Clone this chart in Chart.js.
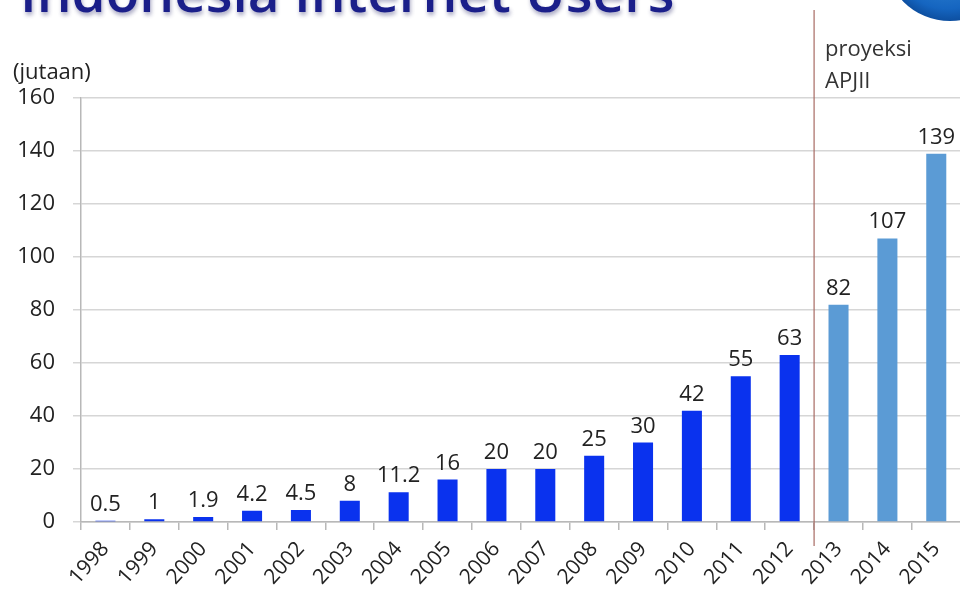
<!DOCTYPE html>
<html>
<head>
<meta charset="utf-8">
<script src="https://cdn.jsdelivr.net/npm/chart.js@4.4.1/dist/chart.umd.min.js"></script>
<style>
  html, body { margin: 0; padding: 0; background: #ffffff; overflow: hidden; width: 960px; height: 598px; }
  #wrap { position: relative; width: 962px; height: 598px; }
</style>
</head>
<body>
<div id="wrap"><canvas id="c" width="962" height="598"></canvas></div>
<script>
const years = ['1998','1999','2000','2001','2002','2003','2004','2005','2006','2007','2008','2009','2010','2011','2012','2013','2014','2015'];
const users = [0.5, 1, 1.9, 4.2, 4.5, 8, 11.2, 16, 20, 20, 25, 30, 42, 55, 63, 82, 107, 139];
const valueLabels = ['0.5','1','1.9','4.2','4.5','8','11.2','16','20','20','25','30','42','55','63','82','107','139'];
const projectedFrom = '2013';
const yTicks = [0, 20, 40, 60, 80, 100, 120, 140, 160];
const titleText = 'Indonesia Internet Users';
const unitText = '(jutaan)';
const projectionText = ['proyeksi', 'APJII'];

const FONT = "'Open Sans', 'Noto Sans', sans-serif";
const projIndex = years.indexOf(projectedFrom);
const barColors = years.map((y, i) => i >= projIndex ? '#5b9bd5' : '#0a32ee');

const extras = {
  id: 'extras',
  beforeDraw(chart) {
    const ctx = chart.ctx;
    ctx.save();
    // logo circle (top right)
    const g = ctx.createRadialGradient(935, -70, 10, 950, -45, 66);
    g.addColorStop(0, '#4aa3e8');
    g.addColorStop(0.85, '#1565c0');
    g.addColorStop(1, '#0d4fa0');
    ctx.beginPath();
    ctx.arc(950, -45, 66, 0, Math.PI * 2);
    ctx.fillStyle = g;
    ctx.fill();
    // title (cut off at top)
    ctx.font = "600 60px " + FONT;
    const w = ctx.measureText(titleText).width;
    const s = 655 / w;
    ctx.font = "600 " + (60 * s).toFixed(1) + "px " + FONT;
    ctx.textAlign = 'left';
    ctx.textBaseline = 'alphabetic';
    ctx.shadowColor = 'rgba(60,60,120,0.45)';
    ctx.shadowBlur = 4;
    ctx.shadowOffsetX = 1;
    ctx.shadowOffsetY = 3;
    ctx.fillStyle = '#1b1f8a';
    ctx.fillText(titleText, 20, 12);
    ctx.restore();

    ctx.save();
    ctx.font = "22px " + FONT;
    ctx.fillStyle = '#222';
    ctx.textAlign = 'left';
    ctx.textBaseline = 'middle';
    ctx.fillText(unitText, 13, 73);
    ctx.restore();
  },
  afterDatasetsDraw(chart) {
    const ctx = chart.ctx;
    const xs = chart.scales.x;
    ctx.save();
    // separator between actual and projection
    const sepX = (xs.getPixelForValue(projIndex - 1) + xs.getPixelForValue(projIndex)) / 2;
    ctx.strokeStyle = '#a86a62';
    ctx.lineWidth = 1.2;
    ctx.beginPath();
    ctx.moveTo(sepX, 10);
    ctx.lineTo(sepX, 546);
    ctx.stroke();
    ctx.font = "22px " + FONT;
    ctx.fillStyle = '#333';
    ctx.textAlign = 'left';
    ctx.textBaseline = 'alphabetic';
    ctx.fillText(projectionText[0], sepX + 11, 56);
    ctx.fillText(projectionText[1], sepX + 11, 88);
    // value labels
    ctx.font = "22px " + FONT;
    ctx.fillStyle = '#222';
    ctx.textAlign = 'center';
    const meta = chart.getDatasetMeta(0);
    meta.data.forEach((bar, i) => {
      ctx.fillText(valueLabels[i], bar.x, bar.y - 10);
    });
    ctx.restore();
  }
};

new Chart(document.getElementById('c'), {
  type: 'bar',
  data: {
    labels: years,
    datasets: [{
      data: users,
      backgroundColor: barColors,
      borderWidth: 0,
      barPercentage: 0.41,
      categoryPercentage: 1.0
    }]
  },
  options: {
    responsive: false,
    animation: false,
    devicePixelRatio: 1,
    layout: { padding: { top: 98, left: 0, right: 0, bottom: 0 } },
    plugins: { legend: { display: false }, tooltip: { enabled: false }, title: { display: false } },
    scales: {
      x: {
        grid: { offset: true, drawOnChartArea: false, drawTicks: true, tickLength: 8, color: '#b8b8b8', lineWidth: 1.5 },
        border: { display: true, color: '#b8b8b8', width: 1.5 },
        ticks: {
          color: '#222',
          font: { family: FONT, size: 21 },
          minRotation: 48, maxRotation: 48,
          autoSkip: false,
          padding: 7
        },
        afterFit(scale) { scale.height = 76; }
      },
      y: {
        min: 0, max: 160,
        afterBuildTicks(scale) { scale.ticks = yTicks.map(v => ({ value: v })); },
        grid: { color: '#d6d6d6', lineWidth: 1.5, tickLength: 8 },
        border: { display: true, color: '#b8b8b8', width: 1.5 },
        ticks: {
          color: '#222',
          font: { family: FONT, size: 22 },
          padding: 18
        },
        afterFit(scale) { scale.width = 81; }
      }
    }
  },
  plugins: [extras]
});
</script>
</body>
</html>
